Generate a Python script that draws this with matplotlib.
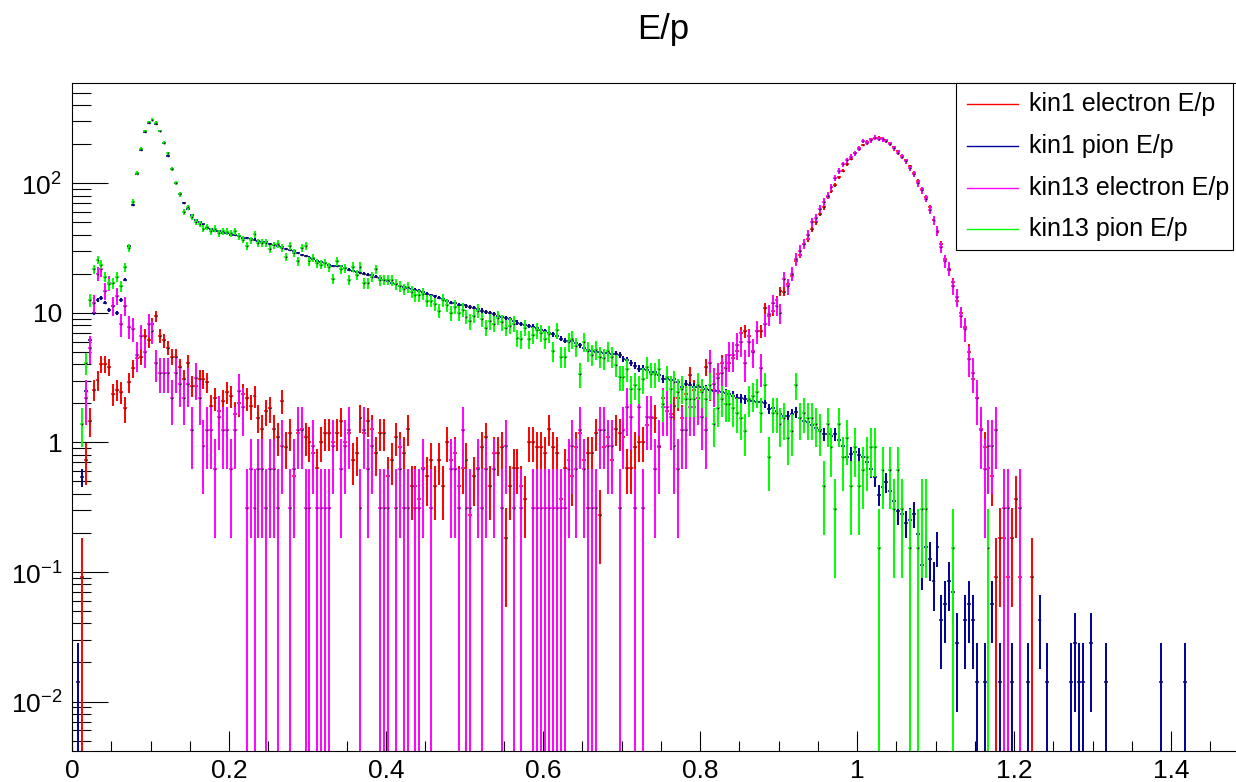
import numpy as np
import matplotlib
matplotlib.use("Agg")
import matplotlib.pyplot as plt
from matplotlib.lines import Line2D
from matplotlib.patches import Rectangle
from matplotlib.ticker import FixedLocator, FixedFormatter, MultipleLocator

plt.rcParams['font.family'] = ['Liberation Sans', 'DejaVu Sans']
plt.rcParams['mathtext.fontset'] = 'custom'
plt.rcParams['mathtext.rm'] = 'Liberation Sans'

# E/p histograms, 300 bins of 0.005 from 0 to 1.5 (bin contents, starting at bin 0)
bin_width = 0.005
n_bins = 300

kin1_electron = [
    0, 0, 0.091, 0.73, 1.5, 2.6, 3.05, 4.05, 4.0, 3.85,
    2.37, 2.6, 2.48, 1.83, 2.9, 3.75, 4.47, 4.6, 6.7, 6.1,
    8.2, 9.4, 6.7, 6.1, 5.4, 4.6, 4.6, 3.8, 3.1, 4.1,
    2.76, 2.7, 3.1, 3.1, 2.9, 1.88, 2.19, 1.74, 2.13, 2.5,
    2.3, 1.65, 2.0, 2.37, 2.16, 1.9, 2.24, 1.53, 1.28, 1.71,
    1.83, 1.31, 1.1, 2.08, 0.89, 1.19, 0.54, 1.19, 1.28, 1.08,
    1.0, 0.82, 0.64, 1.0, 1.19, 1.19, 0.97, 1.19, 1.45, 1.0,
    1.19, 0.73, 0.82, 1.53, 1.19, 1.45, 1.31, 0.82, 1.19, 1.19,
    0.55, 0.73, 1.1, 0.89, 0.85, 1.28, 0.46, 0.46, 0.36, 0.64,
    0.55, 0.73, 0.46, 0.73, 0.46, 1.0, 0.73, 0.82, 0.46, 0.64,
    0.75, 0.27, 0.55, 0.63, 0.9, 1.1, 0.46, 0.81, 0.81, 0.89,
    0.18, 0.46, 0.64, 0.64, 0.46, 0.36, 1.0, 1.0, 0.89, 0.89,
    0.82, 1.28, 0.89, 0.82, 0.36, 0.64, 0.73, 0.55, 0.89, 1.19,
    0.73, 0.82, 0.82, 1.19, 0.27, 0.89, 1.1, 0.73, 1.28, 1.2,
    1.1, 0.67, 0.64, 0.9, 1.0, 1.0, 1.4, 1.53, 1.53, 0.91,
    2.2, 1.74, 1.6, 1.88, 2.15, 1.53, 2.4, 3.3, 2.6, 2.15,
    2.6, 3.8, 2.55, 2.55, 3.4, 4.1, 3.7, 4.1, 4.5, 5.1,
    6.9, 7.2, 6.7, 5.1, 7.2, 7.2, 10.9, 9.4, 10.4, 12.5,
    14.7, 14.5, 16.5, 19.2, 25, 28, 34, 37, 44, 50,
    58, 65, 78, 87, 97, 111, 125, 140, 154, 170,
    186, 198, 209, 218, 222, 225, 222, 214, 205, 190,
    177, 163, 151, 135, 120, 104, 90, 78, 65, 52,
    42, 34, 26, 21.5, 17.3, 12.4, 10, 7.8, 5.0, 3.1,
    2.2, 1.28, 0.89, 0.64, 0.55, 0.09, 0.18, 0.18, 0.09, 0.18,
    0.36, 0.09, 0, 0, 0.09,
]

kin1_pion = [
    0, 0.0141, 0.53, 2.5, 6.2, 10, 12.5, 13, 12, 10.5,
    11.2, 10, 12.5, 18, 33, 68, 118, 181, 250, 292,
    305, 288, 252, 203, 163, 129, 100, 82, 70, 63,
    57, 52, 50, 48, 45, 44, 43, 43, 41, 41,
    40, 40, 39, 38, 38, 37, 36.7, 35.5, 35, 35,
    34, 33.5, 33, 32, 31, 30.5, 30, 29, 28, 27.5,
    26.6, 26, 25, 24.5, 24, 23.5, 23, 23, 22.8, 22,
    21.5, 21, 20.7, 20.4, 20, 19.6, 19.5, 19, 18.5, 18,
    17.6, 17, 16.6, 16.2, 15.8, 15.6, 15.3, 15, 14.7, 14.4,
    14, 13.6, 13.4, 13.1, 12.8, 12.4, 12, 11.8, 11.5, 11.4,
    11.2, 11, 10.8, 10.6, 10.4, 10.2, 10, 9.7, 9.5, 9.3,
    9.1, 8.9, 8.6, 8.4, 8.2, 8.0, 7.9, 7.8, 7.6, 7.4,
    7.2, 7.0, 6.8, 6.6, 6.3, 6.1, 6.0, 6.0, 5.9, 5.6,
    5.3, 5.2, 5.1, 5.0, 5.0, 4.9, 4.9, 4.8, 4.8, 4.7,
    4.4, 4.3, 4.1, 3.9, 3.7, 3.7, 3.6, 3.5, 3.5, 3.3,
    3.1, 3.1, 3.0, 3.1, 2.9, 2.7, 2.8, 2.75, 2.7, 2.7,
    2.65, 2.6, 2.55, 2.5, 2.5, 2.45, 2.4, 2.35, 2.3, 2.2,
    2.2, 2.15, 2.1, 2.1, 2.05, 2.05, 2.0, 1.81, 1.85, 1.75,
    1.65, 1.6, 1.6, 1.65, 1.7, 1.55, 1.45, 1.42, 1.36, 1.3,
    1.25, 1.15, 1.15, 1.13, 1.15, 1.05, 0.95, 0.78, 0.82, 0.85,
    0.8, 0.78, 0.7, 0.62, 0.54, 0.4, 0.45, 0.49, 0.42, 0.35,
    0.3, 0.28, 0.24, 0.26, 0.28, 0.2, 0.113, 0.155, 0.127, 0.085,
    0.155, 0.042, 0.056, 0.085, 0.07, 0.028, 0, 0.042, 0.056, 0.042,
    0.0141, 0, 0.0141, 0, 0.056, 0, 0.0141, 0, 0, 0.0141,
    0, 0, 0, 0.0141, 0, 0, 0.042, 0, 0.0141, 0,
    0, 0, 0, 0, 0.0141, 0.028, 0.0141, 0.0141, 0, 0.028,
    0, 0, 0, 0.0141, 0, 0, 0, 0, 0, 0,
    0, 0, 0, 0, 0, 0, 0, 0.0141, 0, 0,
    0, 0, 0, 0.0141,
]

kin13_electron = [
    0, 0, 0, 2.3, 5.2, 12, 20, 21.5, 14.7, 17,
    11.2, 13.5, 8.2, 11.2, 7.8, 7.4, 4.6, 6.5, 5.0, 8.1,
    7.3, 4.05, 3.4, 3.4, 3.4, 2.2, 3.55, 2.76, 2.2, 2.8,
    1.26, 3.1, 2.2, 0.94, 1.26, 1.26, 0.63, 1.57, 1.26, 1.26,
    0.63, 1.26, 2.5, 1.88, 0.31, 0.63, 0.31, 0.63, 0.63, 0.31,
    0.63, 0.63, 0.31, 0.94, 0, 0.31, 0.63, 1.25, 1.25, 0.31,
    0.31, 0.94, 0.31, 0.31, 0.31, 0.31, 0.94, 0, 0.63, 0.94,
    1.25, 0, 0, 0.31, 1.25, 0.63, 0.94, 0, 0.31, 0.31,
    0.31, 0, 0.31, 0.63, 0.31, 0.31, 0, 0.31, 0.31, 0.63,
    0, 0.31, 0, 0, 0, 0, 0.63, 0.63, 0.31, 1.25,
    0.31, 0.31, 0, 0.63, 0.31, 0.63, 0, 0.63, 0, 0.31,
    0.94, 0, 0.31, 0, 0.31, 0, 0, 0.31, 0.31, 0.31,
    0.31, 0.31, 0.31, 0.31, 0.31, 0.31, 0.63, 0.94, 0.63, 1.25,
    0.63, 0.31, 0.31, 0.31, 1.25, 1.28, 0.94, 0.92, 0, 0.31,
    1.25, 1.88, 1.57, 0.31, 1.88, 0.31, 1.57, 1.57, 0.63, 0.94,
    1.88, 1.88, 1.53, 0.94, 0.63, 1.25, 1.25, 1.88, 1.88, 2.2,
    1.57, 1.25, 4.0, 2.8, 3.2, 3.3, 3.8, 4.6, 4.7, 5.5,
    5.8, 4.0, 6.0, 5.0, 7.1, 3.8, 8.0, 9.6, 12, 11.4,
    10, 18, 16, 20, 26, 30, 34, 40, 50, 54,
    63, 72, 80, 93, 109, 125, 140, 150, 160, 170,
    185, 212, 206, 214, 225, 220, 218, 212, 200, 186,
    172, 160, 148, 130, 118, 100, 88, 76, 62, 52,
    43, 32, 25, 22, 16, 13, 9.5, 7.5, 4.4, 3.4,
    2.2, 1.25, 0.63, 0.94, 0.94, 1.25, 0, 0.31, 0.31, 0,
    0, 0.31,
]

kin13_pion = [
    0, 0, 1.38, 4.1, 12.6, 21.5, 25.5, 23.5, 19, 16.5,
    17, 19, 16, 22.5, 31.6, 72, 120, 185, 253, 297,
    310, 293, 253, 205, 170, 129, 100, 82, 60, 65,
    54.6, 50, 48.7, 44.6, 46, 42.7, 44.6, 41.2, 42.7, 42.2,
    41.2, 42.7, 39, 36.7, 32.7, 36.2, 40.2, 34.7, 34.7, 34.7,
    31, 33, 34, 31.5, 27, 32.7, 29, 25, 31.5, 32.7,
    25, 26.5, 24, 23.5, 24, 22.5, 18.2, 25, 21.5, 22,
    18, 22.7, 19.6, 22.7, 17, 17, 19, 21.5, 17.7, 18,
    18, 17.7, 16.5, 16, 15.2, 15.8, 14.5, 13.6, 13.6, 14,
    12.4, 12.4, 11.7, 10.4, 12.6, 11.5, 10, 11.2, 10, 10.5,
    9.3, 8.6, 9.5, 10.4, 8.9, 7.6, 8.6, 8.2, 9.2, 8.4,
    7.6, 7.9, 8.3, 6.4, 6.3, 7.6, 6.3, 6.8, 7.4, 7.0,
    6.3, 6.9, 5.1, 7.4, 4.6, 4.6, 5.9, 6.2, 5.5, 3.4,
    5.9, 5.1, 4.7, 5.2, 4.6, 4.5, 5.0, 4.6, 4.0, 3.2,
    3.2, 3.7, 2.6, 2.7, 2.6, 3.1, 3.8, 3.3, 3.4, 3.6,
    2.0, 3.2, 2.6, 2.9, 2.4, 2.6, 2.2, 2.1, 2.1, 2.8,
    2.5, 2.15, 2.7, 1.36, 1.9, 2.1, 2.0, 2.0, 1.8, 1.7,
    1.53, 1.22, 2.1, 2.37, 2.5, 1.7, 2.8, 0.75, 1.7, 1.7,
    1.4, 1.5, 1.08, 1.2, 2.8, 1.5, 1.7, 1.6, 1.5, 1.4,
    1.2, 0.45, 1.35, 0.9, 0.31, 1.35, 0.74, 1.1, 0.45, 0.9,
    0.45, 0.61, 0.76, 0.9, 0.9, 0.15, 0.61, 0, 0.61, 0.31,
    0.61, 0.31, 0, 0.15, 0, 0.15, 0.31, 0.31, 0, 0,
    0, 0, 0, 0, 0.15, 0, 0, 0, 0, 0,
    0, 0, 0, 0.15,
]

# weight of a single entry in each (scaled) histogram
entry_weight = [0.0913, 0.0141, 0.313, 0.153]
labels = ["kin1 electron E/p", "kin1 pion E/p", "kin13 electron E/p", "kin13 pion E/p"]
colors = ["#ff0000", "#000099", "#ff00ff", "#00ff00"]

centers = (np.arange(n_bins) + 0.5) * bin_width
y_low, y_high = 0.00415, 593


def draw_hist(ax, values, w, color):
    vals = np.zeros(n_bins)
    vals[:len(values)] = values
    n = np.round(vals / w)
    keep = n > 0
    n = n[keep]
    x = centers[keep]
    y = n * w
    err = np.sqrt(n) * w
    lo = np.clip(y - err, 1e-6, None)
    ax.vlines(x, lo, y + err, colors=color, linewidth=1.4)
    ax.hlines(y, x - bin_width / 2, x + bin_width / 2, colors=color, linewidth=1.1)
    ax.plot(x, y, ls='none', marker='s', ms=1.1, mec='none', mfc='#202020')


fig = plt.figure(figsize=(12.36, 7.82), dpi=100)
ax = fig.add_axes([72 / 1236, 1 - 751 / 782, 1177.5 / 1236, 668 / 782])

for vals, w, c in zip([kin1_electron, kin1_pion, kin13_electron, kin13_pion], entry_weight, colors):
    draw_hist(ax, vals, w, c)

ax.set_yscale('log')
ax.set_xlim(0, 1.5)
ax.set_ylim(y_low, y_high)

xt = [0, 0.2, 0.4, 0.6, 0.8, 1.0, 1.2, 1.4]
ax.set_xticks(xt)
ax.set_xticklabels(["0", "0.2", "0.4", "0.6", "0.8", "1", "1.2", "1.4"])
ax.xaxis.set_minor_locator(MultipleLocator(0.05))

yt = [1e-2, 1e-1, 1, 10, 100]
ax.yaxis.set_major_locator(FixedLocator(yt))
ax.yaxis.set_major_formatter(FixedFormatter([r"$10^{-2}$", r"$10^{-1}$", "1", "10", r"$10^{2}$"]))
minor = [m * 10.0 ** e for e in range(-3, 3) for m in range(2, 10)]
ax.yaxis.set_minor_locator(FixedLocator([v for v in minor if y_low < v < y_high]))
ax.yaxis.set_minor_formatter(FixedFormatter([]))

ax.tick_params(axis='x', which='major', direction='in', length=14.4, width=0.8,
               labelsize=19, pad=6)
ax.tick_params(axis='x', which='minor', direction='in', length=7.2, width=0.8)
ax.tick_params(axis='y', which='major', direction='in', length=26, width=0.8,
               labelsize=19, pad=7)
ax.tick_params(axis='y', which='minor', direction='in', length=13.5, width=0.8)

for side in ['left', 'bottom', 'top']:
    ax.spines[side].set_linewidth(0.8)
ax.spines['right'].set_visible(False)

fig.text(663 / 1236, 1 - 30 / 782, "E/p", ha='center', va='center', fontsize=25)

# legend box drawn in figure pixels
W, H = 1236, 782
fig.add_artist(Rectangle((955.7 / W, 1 - 250 / H), (1233 - 955.7) / W, (250 - 83) / H,
                         transform=fig.transFigure, facecolor='white',
                         edgecolor='black', linewidth=0.8, zorder=5))
for k, (lab, c) in enumerate(zip(labels, colors)):
    yy = 1 - (104 + 41.8 * k) / H
    fig.add_artist(Line2D([967 / W, 1018 / W], [yy, yy], transform=fig.transFigure,
                          color=c, linewidth=1.0, zorder=6))
    fig.text(1029 / W, yy, lab, ha='left', va='center', fontsize=18, zorder=6)

fig.savefig("out.png", dpi=100, facecolor='white')
